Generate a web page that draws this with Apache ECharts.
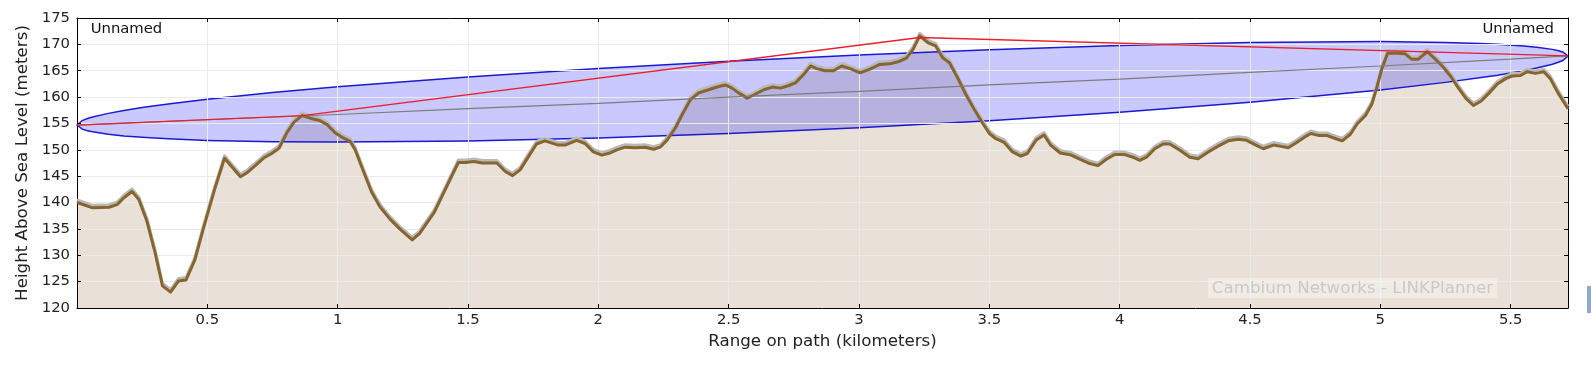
<!DOCTYPE html>
<html><head><meta charset="utf-8">
<script src="https://cdn.jsdelivr.net/npm/echarts@6/dist/echarts.min.js"></script>
<style>html,body{margin:0;padding:0;background:#fff}#c{width:1591px;height:369px}</style>
</head><body><div id="c"></div>
<script>
// Terrain profile (distance in km, height in m)
const distanceKm = [0.000,0.060,0.123,0.154,0.180,0.211,0.237,0.268,0.300,0.328,
0.359,0.389,0.418,0.452,0.484,0.528,0.566,0.627,0.654,0.686,
0.718,0.747,0.775,0.806,0.832,0.863,0.895,0.933,0.959,0.991,
1.023,1.048,1.067,1.099,1.130,1.162,1.200,1.238,1.286,1.314,
1.371,1.415,1.463,1.491,1.523,1.554,1.611,1.643,1.671,1.700,
1.732,1.763,1.795,1.846,1.872,1.917,1.949,1.981,2.013,2.045,
2.071,2.103,2.141,2.179,2.212,2.237,2.263,2.295,2.321,2.353,
2.385,2.423,2.462,2.487,2.513,2.538,2.571,2.596,2.635,2.667,
2.699,2.731,2.756,2.788,2.814,2.838,2.870,2.902,2.934,2.966,
3.004,3.042,3.080,3.118,3.150,3.182,3.207,3.233,3.265,3.294,
3.322,3.347,3.379,3.411,3.443,3.475,3.500,3.525,3.557,3.589,
3.621,3.646,3.679,3.710,3.735,3.772,3.814,3.853,3.885,3.917,
3.949,3.981,4.019,4.051,4.077,4.103,4.135,4.167,4.192,4.231,
4.269,4.301,4.340,4.378,4.417,4.455,4.487,4.519,4.551,4.590,
4.615,4.647,4.679,4.712,4.734,4.766,4.797,4.829,4.854,4.886,
4.911,4.943,4.968,4.987,5.006,5.028,5.063,5.095,5.120,5.146,
5.180,5.209,5.241,5.272,5.297,5.329,5.357,5.386,5.418,5.449,
5.481,5.506,5.538,5.563,5.595,5.627,5.652,5.684,5.720];
const terrainHeightM = [140.0,139.0,139.1,139.6,140.9,142.1,140.6,136.5,130.4,124.2,
123.0,125.1,125.3,129.1,134.9,142.5,148.4,144.9,145.7,147.1,
148.5,149.3,150.3,153.3,155.2,156.5,156.0,155.5,154.8,153.2,
152.2,151.6,150.0,145.9,142.0,139.2,136.9,135.0,132.9,134.1,
138.2,142.7,147.6,147.6,147.8,147.5,147.5,145.9,145.1,146.2,
148.7,151.1,151.7,150.9,150.9,151.8,151.2,149.6,149.0,149.4,
150.0,150.5,150.4,150.5,150.1,150.5,151.8,154.1,156.6,159.5,
160.8,161.4,162.0,162.3,161.7,160.8,159.8,160.4,161.4,161.9,
161.7,162.2,162.7,164.3,165.9,165.4,165.0,165.0,165.9,165.4,
164.6,165.3,166.2,166.3,166.7,167.4,169.0,171.6,170.3,169.7,
167.4,166.5,163.6,160.4,157.6,155.0,153.1,152.1,151.4,149.6,
148.8,149.3,151.8,152.8,150.9,149.4,149.0,148.1,147.4,147.0,
148.2,149.1,149.1,148.6,148.0,148.6,150.2,151.1,151.1,149.9,
148.6,148.3,149.6,150.7,151.7,152.0,151.8,151.0,150.2,150.9,
150.7,150.4,151.4,152.5,153.1,152.7,152.7,152.1,151.7,153.0,
154.9,156.5,158.7,161.9,165.4,168.3,168.3,168.2,167.2,167.2,
168.6,167.3,165.7,163.8,161.9,159.7,158.4,159.2,160.8,162.5,
163.5,164.0,164.1,164.8,164.5,164.8,163.5,160.6,157.8];

// Line of sight (grey)
const losX = [0,0.5,1,1.5,2,2.5,3,3.5,4,4.5,5,5.5,5.72];
const losY = [154.7,155.7,156.7,157.8,158.8,160.0,161.1,162.3,163.4,164.7,165.9,167.2,167.8];

// Red line over obstructions
const obstX = [0,0.865,3.233,5.72];
const obstY = [154.7,156.5,171.3,167.8];

// Fresnel zone boundaries (blue)
const fresnelX = [0,0.02,0.04,0.06,0.12,0.18,0.25,0.35,0.5,0.75,1,1.5,2,2.5,3,3.5,4,4.5,5,5.25,5.38,5.45,5.55,5.6,5.66,5.68,5.7,5.72];
const fresnelUpper = [154.7,155.55,155.93,156.22,156.91,157.46,158.01,158.7,159.59,160.86,161.95,163.83,165.42,166.8,167.98,168.98,169.78,170.34,170.52,170.37,170.18,170.02,169.7,169.46,169.05,168.85,168.56,167.8];
const fresnelLower = [154.7,153.92,153.63,153.41,152.96,152.64,152.37,152.08,151.79,151.54,151.47,151.69,152.26,153.1,154.2,155.53,157.12,159.03,161.36,162.79,163.65,164.16,165.01,165.51,166.24,166.55,166.93,167.8];

// Axis ticks
const xTicks = {min:0, max:5.72, interval:0.5};
const yTicks = {min:120, max:175, interval:5};

const endNames = ['Unnamed','Unnamed'];

const FONT = '"DejaVu Sans", sans-serif';
const terrain = distanceKm.map((d,i)=>[d, terrainHeightM[i]]);
const los = losX.map((d,i)=>[d, losY[i]]);
const obst = obstX.map((d,i)=>[d, obstY[i]]);

const frameAxis = {
  axisLine:{show:true, onZero:false, lineStyle:{color:'#000', width:1}},
  axisTick:{show:true, inside:true, length:4, lineStyle:{color:'#000', width:1}}
};

const chart = echarts.init(document.getElementById('c'), null, {renderer:'canvas'});
chart.setOption({
  animation:false,
  backgroundColor:'#ffffff',
  grid:{left:77, top:18, width:1491, height:290},
  xAxis:[
    Object.assign({type:'value', position:'bottom', z:3,
      axisLabel:{showMinLabel:false, showMaxLabel:false, color:'#222', fontSize:14.8, fontFamily:FONT, margin:5},
      splitLine:{show:true, lineStyle:{color:'#ebebeb', width:1}},
      name:'Range on path (kilometers)', nameLocation:'middle', nameGap:22,
      nameTextStyle:{color:'#222', fontSize:16.7, fontFamily:FONT}}, xTicks, frameAxis),
    Object.assign({type:'value', position:'top', z:3, axisLabel:{show:false}, splitLine:{show:false}}, xTicks, frameAxis)
  ],
  yAxis:[
    Object.assign({type:'value', position:'left', z:3,
      axisLabel:{color:'#222', fontSize:14.8, fontFamily:FONT, margin:7},
      splitLine:{show:true, lineStyle:{color:'#ebebeb', width:1}},
      name:'Height Above Sea Level (meters)', nameLocation:'middle', nameGap:43,
      nameTextStyle:{color:'#222', fontSize:16.7, fontFamily:FONT}}, yTicks, frameAxis),
    Object.assign({type:'value', position:'right', z:3, axisLabel:{show:false}, splitLine:{show:false}}, yTicks, frameAxis)
  ],
  series:[
    {type:'line', name:'terrainFill', data:terrain, z:1, silent:true, symbol:'none',
     lineStyle:{width:0}, areaStyle:{color:'#e9e1d7', opacity:1, origin:'start'}},
    {type:'custom', name:'fresnel', coordinateSystem:'cartesian2d', z:2, silent:true,
     data:[[fresnelX[0], fresnelUpper[0]]],
     renderItem:function(params, api){
       const pts=[];
       for(let i=0;i<fresnelX.length;i++) pts.push(api.coord([fresnelX[i], fresnelUpper[i]]));
       for(let i=fresnelX.length-1;i>=0;i--) pts.push(api.coord([fresnelX[i], fresnelLower[i]]));
       return {type:'polygon', shape:{points:pts}, style:{fill:'rgba(0,0,255,0.21)', stroke:'#1a1ad2', lineWidth:1.5}};
     }},
    {type:'line', name:'terrain', data:terrain, z:4, silent:true, symbol:'none',
     lineStyle:{color:'#86652f', width:3, join:'round', shadowColor:'rgba(185,185,185,1)', shadowBlur:0, shadowOffsetY:-2.5}},
    {type:'line', name:'los', data:los, z:5, silent:true, symbol:'none',
     lineStyle:{color:'#7c7c7c', width:1.2}},
    {type:'line', name:'obstruction', data:obst, z:5, silent:true, symbol:'none',
     lineStyle:{color:'#e8202c', width:1.3}}
  ],
  graphic:[
    {type:'text', x:90.7, y:29, z:20, style:{text:endNames[0], font:'14.8px "DejaVu Sans"', fill:'#111', textAlign:'left', textVerticalAlign:'middle', align:'left', verticalAlign:'middle'}},
    {type:'text', x:1554, y:29, z:20, style:{text:endNames[1], font:'14.8px "DejaVu Sans"', fill:'#111', textAlign:'right', textVerticalAlign:'middle', align:'right', verticalAlign:'middle'}},
    {type:'rect', z:20, shape:{x:1208, y:278, width:289, height:20}, style:{fill:'rgba(255,255,255,0.35)'}},
    {type:'text', x:1352.5, y:288.5, z:21, style:{text:'Cambium Networks - LINKPlanner', font:'16.7px "DejaVu Sans"', fill:'#cdc8c3', textAlign:'center', textVerticalAlign:'middle', align:'center', verticalAlign:'middle'}},
    {type:'rect', z:20, shape:{x:1587, y:286, width:4, height:27}, style:{fill:'#8fa9cc'}}
  ]
});
</script></body></html>
